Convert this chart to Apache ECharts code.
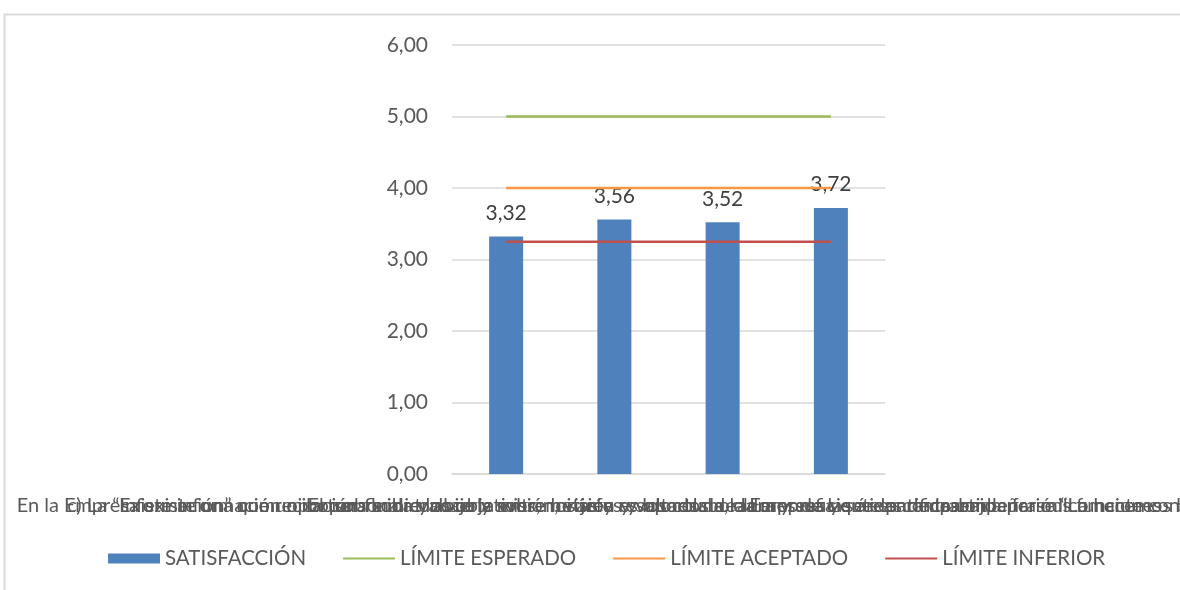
<!DOCTYPE html>
<html>
<head>
<meta charset="utf-8">
<script src="https://cdn.jsdelivr.net/npm/echarts@6/dist/echarts.min.js"></script>
<style>
  html, body { margin: 0; padding: 0; background: #ffffff; }
  #chart { width: 1180px; height: 590px; }
</style>
</head>
<body>
<div id="chart"></div>
<script>
// Survey items (category axis)
const categories = [
  'En la Empresa existe una comunicación fluida y abierta entre los jefes y los colaboradores de las áreas de trabajo',
  'c) La “Información” que recibo sobre mi trabajo y sobre mi área es oportuna, clara y suficiente para desempeñar mis funciones',
  'Existe información oportuna sobre los objetivos, metas y resultados de la empresa que es compartida periódicamente con todo el personal',
  'El personal conoce la misión, visión y valores de la Empresa y se identifica con la frase “Lo hacemos bien en mi Empresa”'
];

// Average satisfaction per item
const satisfaccion = [3.32, 3.56, 3.52, 3.72];

// Reference limits
const limiteEsperado = [5, 5, 5, 5];
const limiteAceptado = [4, 4, 4, 4];
const limiteInferior = [3.25, 3.25, 3.25, 3.25];

// Value axis
const yMin = 0, yMax = 6, yStep = 1;

const fmt = v => v.toFixed(2).replace('.', ',');
const FONT = 'Lato, "Noto Sans", sans-serif';

const chart = echarts.init(document.getElementById('chart'), null, { renderer: 'canvas' });

chart.setOption({
  backgroundColor: '#ffffff',
  animation: false,
  textStyle: { fontFamily: FONT },
  graphic: [{
    type: 'rect',
    shape: { x: 4.5, y: 14.5, width: 1300, height: 700 },
    style: { fill: 'none', stroke: '#d9d9d9', lineWidth: 2 },
    silent: true,
    z: -10
  }],
  grid: {
    left: 452, right: 295, top: 45, bottom: 116,
    containLabel: false,
    outerBoundsMode: 'none'
  },
  legend: {
    bottom: 16,
    left: 103,
    itemGap: 36,
    itemWidth: 52,
    itemHeight: 10,
    textStyle: { fontSize: 20.5, color: '#595959', fontFamily: FONT },
    data: [
      { name: 'SATISFACCIÓN', icon: 'rect' },
      { name: 'LÍMITE ESPERADO', itemStyle: { opacity: 0 } },
      { name: 'LÍMITE ACEPTADO', itemStyle: { opacity: 0 } },
      { name: 'LÍMITE INFERIOR', itemStyle: { opacity: 0 } }
    ]
  },
  xAxis: {
    type: 'category',
    data: categories,
    axisLine: { show: true, lineStyle: { color: '#d9d9d9', width: 1.5 } },
    axisTick: { show: false },
    axisLabel: {
      interval: 0,
      margin: 22,
      fontSize: 20,
      color: '#595959',
      fontFamily: FONT,
      hideOverlap: false
    }
  },
  yAxis: {
    type: 'value',
    min: yMin,
    max: yMax,
    interval: yStep,
    axisLine: { show: false },
    axisTick: { show: false },
    splitLine: { lineStyle: { color: '#d9d9d9', width: 1.5 } },
    axisLabel: {
      formatter: v => fmt(v),
      fontSize: 21,
      color: '#595959',
      margin: 24,
      fontFamily: FONT
    }
  },
  series: [
    {
      name: 'SATISFACCIÓN',
      type: 'bar',
      data: satisfaccion,
      barWidth: 34,
      itemStyle: { color: '#4f81bd' },
      label: {
        show: true,
        position: 'top',
        distance: 13,
        formatter: p => fmt(p.value),
        fontSize: 21,
        color: '#404040',
        fontFamily: FONT
      },
      z: 2
    },
    {
      name: 'LÍMITE ESPERADO',
      type: 'line',
      data: limiteEsperado,
      symbol: 'none',
      lineStyle: { color: '#9bbb59', width: 2.5 },
      itemStyle: { color: '#9bbb59' },
      z: 3
    },
    {
      name: 'LÍMITE ACEPTADO',
      type: 'line',
      data: limiteAceptado,
      symbol: 'none',
      lineStyle: { color: '#f79646', width: 2.5 },
      itemStyle: { color: '#f79646' },
      z: 3
    },
    {
      name: 'LÍMITE INFERIOR',
      type: 'line',
      data: limiteInferior,
      symbol: 'none',
      lineStyle: { color: '#c0504d', width: 2.5 },
      itemStyle: { color: '#c0504d' },
      z: 3
    }
  ]
});
</script>
</body>
</html>
